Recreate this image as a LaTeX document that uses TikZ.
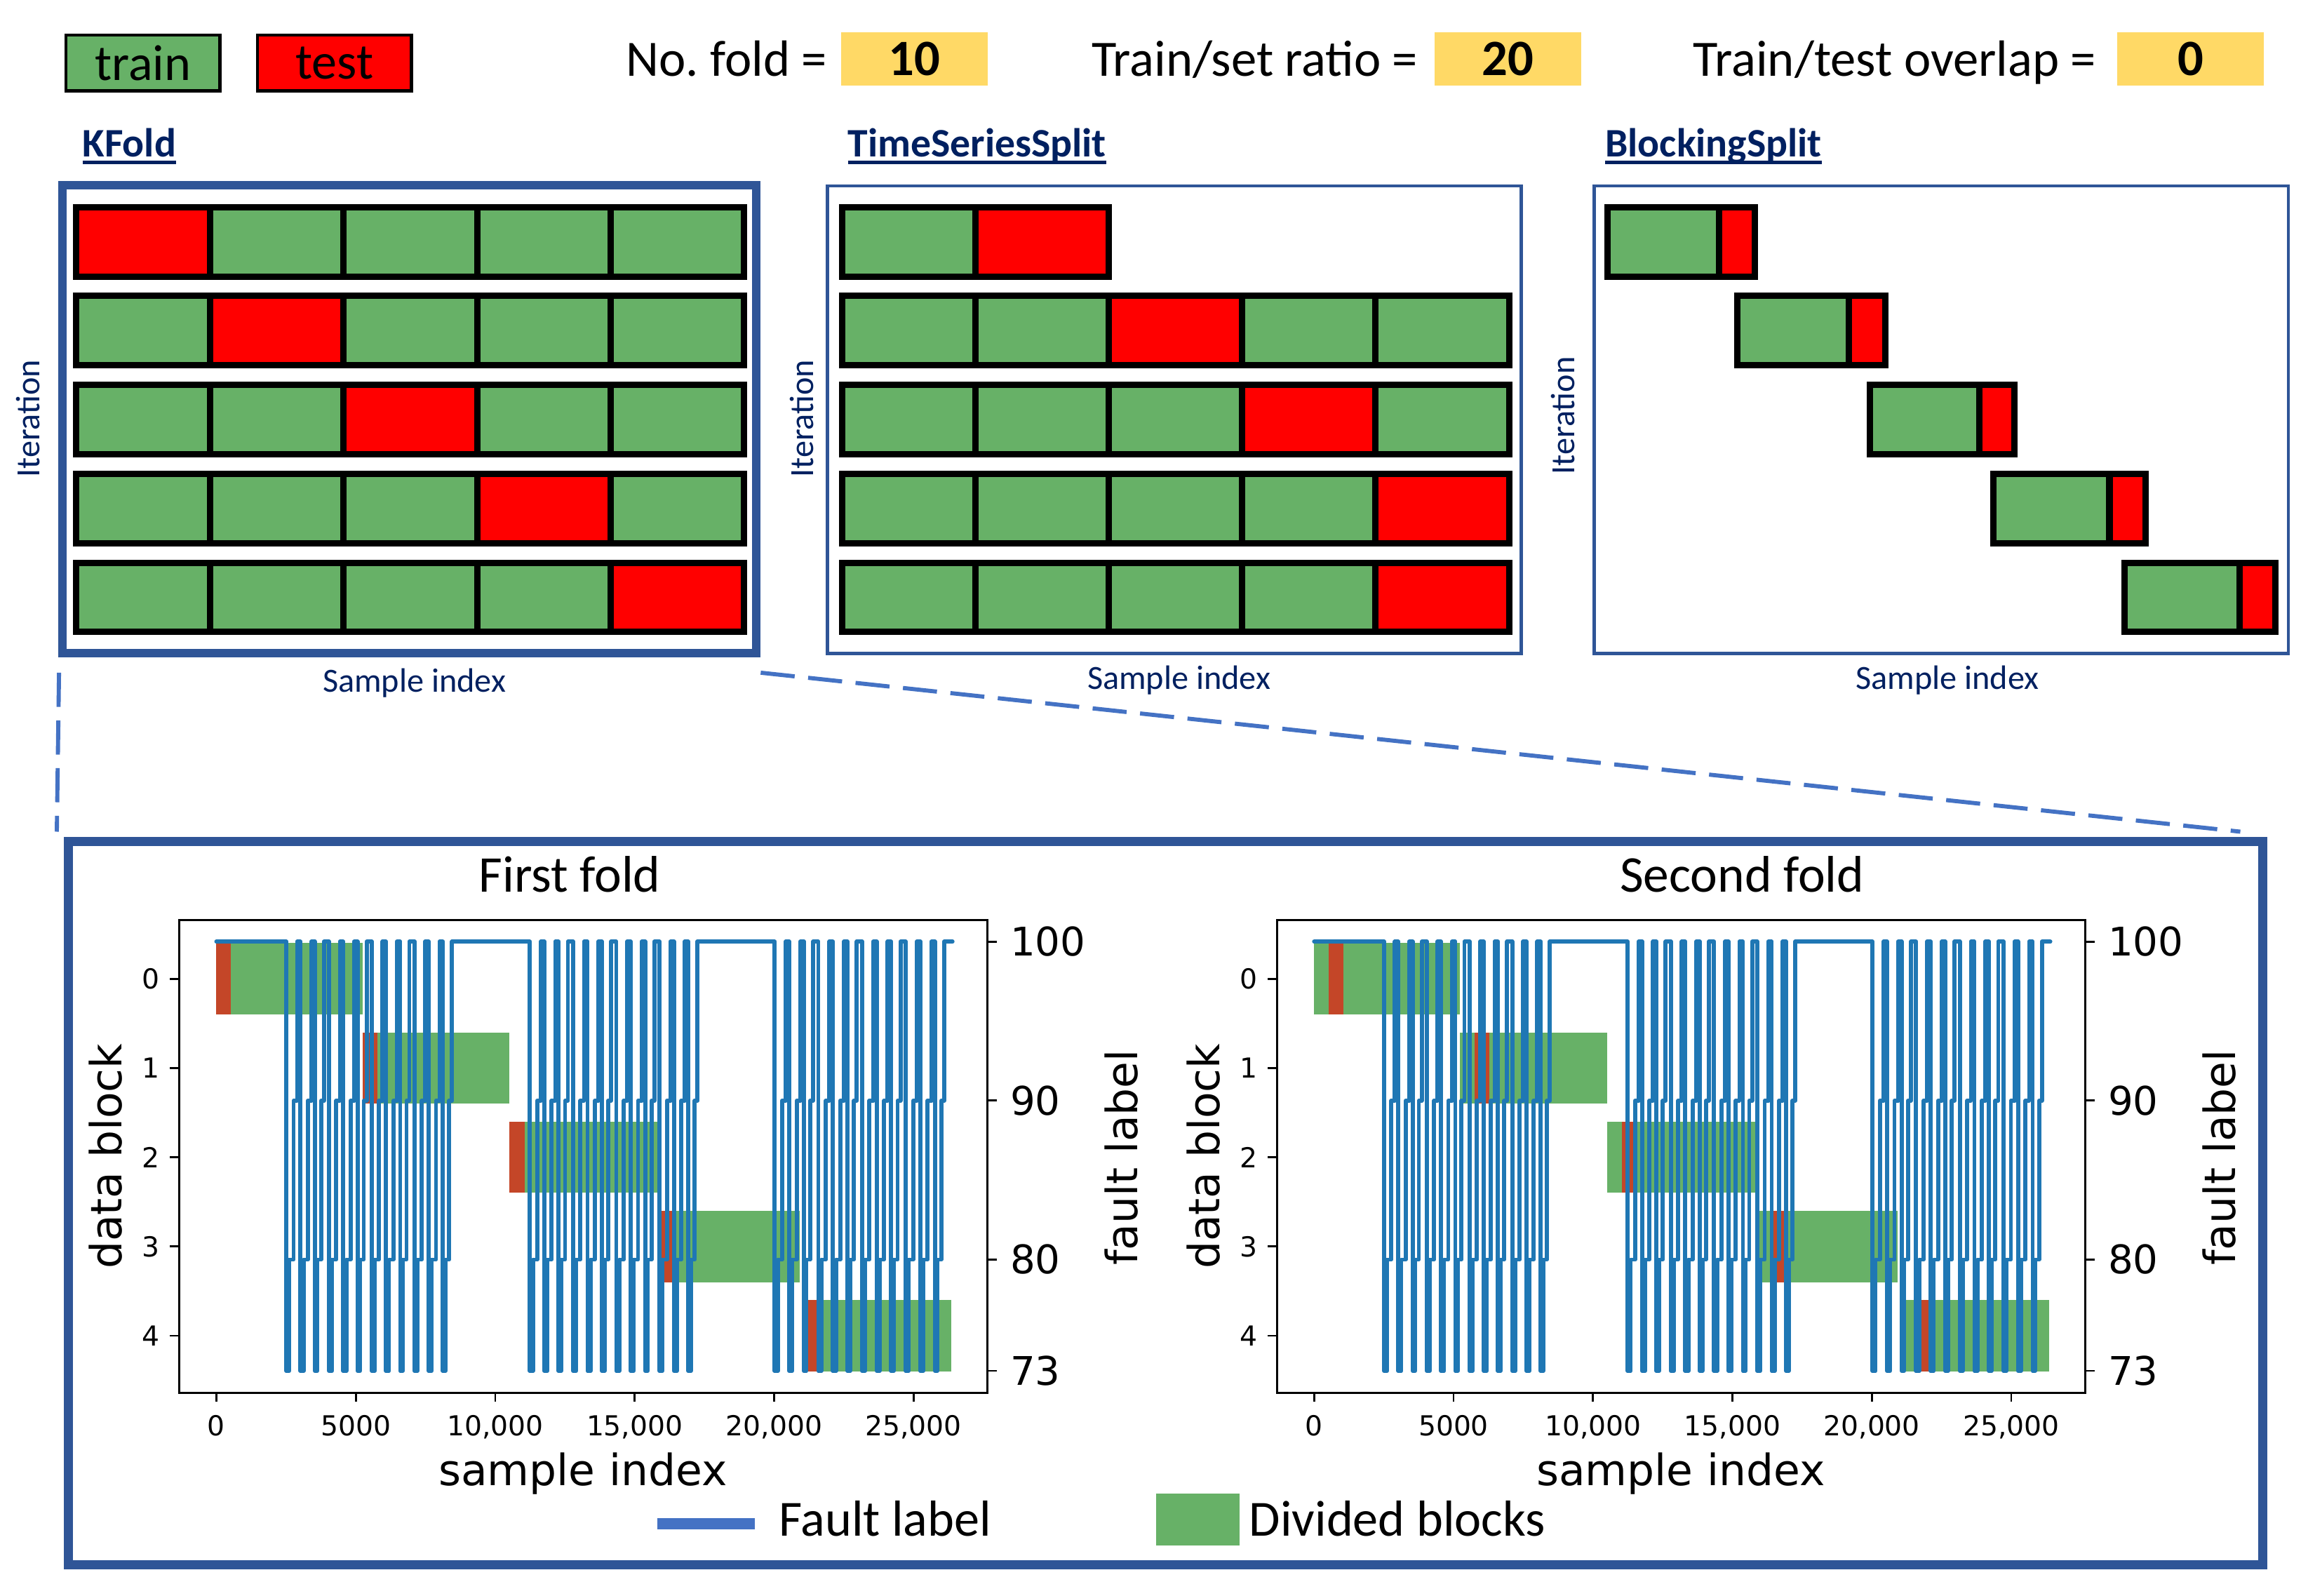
\documentclass[tikz,border=0pt]{standalone}
\usepackage{fontspec}
\setmainfont{Carlito}
\newfontfamily\dejavu{DejaVu Sans}
\usetikzlibrary{calc}
\frenchspacing
\definecolor{cgreen}{RGB}{103,177,103}
\definecolor{cred}{RGB}{255,0,0}
\definecolor{pred}{RGB}{196,70,40}
\definecolor{frameblue}{RGB}{47,85,151}
\definecolor{navy}{RGB}{0,32,96}
\definecolor{gold}{RGB}{255,217,102}
\definecolor{dashblue}{RGB}{68,114,196}
\definecolor{mplblue}{RGB}{31,119,180}
\newcommand\fs[1]{\fontsize{#1}{#1}\selectfont}

\newcommand\foldpanel[2]{%
\begin{scope}[xshift=#1pt]
 \foreach \bs/\be [count=\ii from 0] in {0/99.2,99.2/199.2,199.2/299.7,300.2/396.2,400.5/499.2}{
   \fill[cgreen] ({147+\bs},{665+(\ii-0.4)*60.6}) rectangle ({147+\be},{665+(\ii+0.4)*60.6});
   \fill[pred] ({147+\bs+#2*0.1*(\be-\bs)},{665+(\ii-0.4)*60.6}) rectangle ({147+\bs+(#2+1)*0.1*(\be-\bs)},{665+(\ii+0.4)*60.6});
 }
 \draw[wave] (147,639.7) -- (194.5,639.7)
   \foreach \kk in {0,...,11}{
     -- ({194.5+\kk*9.675},639.7) -- ({194.5+\kk*9.675},931.3)
     -- ({194.5+(\kk+0.21-0.03*(mod(\kk,3)==2))*9.675},931.3) -- ({194.5+(\kk+0.21-0.03*(mod(\kk,3)==2))*9.675},855.7)
     -- ({194.5+(\kk+0.51-0.07*(mod(\kk,3)==2))*9.675},855.7) -- ({194.5+(\kk+0.51-0.07*(mod(\kk,3)==2))*9.675},747.7)
     -- ({194.5+(\kk+0.76-0.12*(mod(\kk,3)==2))*9.675},747.7) -- ({194.5+(\kk+0.76-0.12*(mod(\kk,3)==2))*9.675},639.7)
   }
   -- (360,639.7)
   \foreach \kk in {0,...,11}{
     -- ({360+\kk*9.783},639.7) -- ({360+\kk*9.783},931.3)
     -- ({360+(\kk+0.21-0.03*(mod(\kk,3)==2))*9.783},931.3) -- ({360+(\kk+0.21-0.03*(mod(\kk,3)==2))*9.783},855.7)
     -- ({360+(\kk+0.51-0.07*(mod(\kk,3)==2))*9.783},855.7) -- ({360+(\kk+0.51-0.07*(mod(\kk,3)==2))*9.783},747.7)
     -- ({360+(\kk+0.76-0.12*(mod(\kk,3)==2))*9.783},747.7) -- ({360+(\kk+0.76-0.12*(mod(\kk,3)==2))*9.783},639.7)
   }
   -- (526.3,639.7)
   \foreach \kk in {0,...,11}{
     -- ({526.3+\kk*9.89},639.7) -- ({526.3+\kk*9.89},931.3)
     -- ({526.3+(\kk+0.21-0.03*(mod(\kk,3)==2))*9.89},931.3) -- ({526.3+(\kk+0.21-0.03*(mod(\kk,3)==2))*9.89},855.7)
     -- ({526.3+(\kk+0.51-0.07*(mod(\kk,3)==2))*9.89},855.7) -- ({526.3+(\kk+0.51-0.07*(mod(\kk,3)==2))*9.89},747.7)
     -- ({526.3+(\kk+0.76-0.12*(mod(\kk,3)==2))*9.89},747.7) -- ({526.3+(\kk+0.76-0.12*(mod(\kk,3)==2))*9.89},639.7)
   }
   -- (647.1,639.7);
 \draw[spine] (121.9,625) rectangle (670.8,946.2);
 \foreach \ii in {0,...,4}{
   \draw[tickmark] (121.9,{665+60.6*\ii}) -- (115.4,{665+60.6*\ii});
   \node[ticklab, anchor=east] (lt#2\ii) at (108.5,{665+60.6*\ii}) {\ii};
 }
 \foreach \jj/\lab in {0/0,1/5000,2/{10,000},3/{15,000},4/{20,000},5/{25,000}}{
   \draw[tickmark] ({147+94.72*\jj},946.2) -- ({147+94.72*\jj},952.2);
   \node[ticklab, anchor=north] (bt#2\jj) at ({147+94.72*\jj},961.5) {\lab};
 }
 \foreach \val/\yy in {100/639.7,90/747.7,80/855.7,73/931.3}{
   \draw[tickmark] (670.8,\yy) -- (677.3,\yy);
   \node[rticklab, anchor=west] (rt#2\val) at (686.4,\yy) {\val};
 }
 \node[mlab, anchor=base] (xl#2) at (396,1009) {sample index};
 \node[mlab, rotate=90, anchor=base] (yl#2) at (82.8,785.6) {data block};
 \node[mlab, rotate=90, anchor=base] (yr#2) at (772.7,786.4) {fault label};
\end{scope}}

\begin{document}
\begin{tikzpicture}[x=1pt,y=-1pt,
  txt/.style={inner sep=0pt, outer sep=0pt},
  toptext/.style={txt, font=\fs{34.6}},
  legbox/.style={draw=black, line width=2.2pt, minimum width=104.7pt, minimum height=37.9pt, inner sep=0pt, font=\fs{34.4}},
  goldbox/.style={fill=gold, minimum width=99.3pt, minimum height=36.1pt, inner sep=0pt, font=\fs{34.6}\bfseries},
  splittitle/.style={txt, font=\fs{27.5}\bfseries, text=navy},
  axlab/.style={txt, font=\fs{23}, text=navy},
  cellb/.style={draw=black, line width=4.3pt},
  panelthick/.style={draw=frameblue, line width=5.9pt},
  panelthin/.style={draw=frameblue, line width=2.2pt},
  zoomline/.style={draw=dashblue, line width=2.8pt, dash pattern=on 23.2pt off 9.2pt},
  wave/.style={draw=mplblue, line width=2.8pt, line join=round, line cap=round},
  spine/.style={draw=black, line width=1.5pt},
  tickmark/.style={draw=black, line width=1.3pt},
  ticklab/.style={txt, font=\dejavu\fs{18.7}},
  rticklab/.style={txt, font=\dejavu\fs{26.8}},
  mlab/.style={txt, font=\dejavu\fs{29.3}},
  foldtitle/.style={txt, font=\fs{35}},
  legtext/.style={txt, font=\fs{34.4}},
]
\fill[white] (0,0) rectangle (1568,1083.9);
\useasboundingbox (0,0) rectangle (1568,1083.9);

% top legend and parameters
\node[legbox, fill=cgreen] (trainkey) at (97.15,42.75) {train};
\node[legbox, fill=cred] (testkey) at (227.3,42.75) {test};
\node[toptext, anchor=base west] (nfold) at (425.5,51.6) {No. fold =};
\node[goldbox] (nfoldv) at (621.15,39.95) {10};
\node[toptext, anchor=base west] (ratio) at (741.6,51.6) {Train/set ratio =};
\node[goldbox] (ratiov) at (1024.5,39.95) {20};
\node[toptext, anchor=base west] (overlap) at (1150.4,51.6) {Train/test overlap =};
\node[goldbox] (overlapv) at (1488.15,39.95) {0};

% titles
\node[splittitle, anchor=base west] (kftitle) at (56,106.5) {KFold};
\node[splittitle, anchor=base west] (tstitle) at (576,106.5) {TimeSeriesSplit};
\node[splittitle, anchor=base west] (bstitle) at (1090.6,106.5) {BlockingSplit};
\foreach \nm in {kftitle,tstitle,bstitle}{
  \draw[navy, line width=2.2pt] ($(\nm.base west)+(0,3.9)$) -- ($(\nm.base east)+(0,3.9)$);
}

% panels
\draw[panelthick] (42.35,125.75) rectangle (513.75,443.75);
\draw[panelthin] (562,126.3) rectangle (1033.4,443.8);
\draw[panelthin] (1083.1,126.3) rectangle (1554.7,443.8);

% KFold cells
\foreach \row in {0,...,4}{
  \foreach \col in {0,...,4}{
    \ifnum\row=\col \def\cellcol{cred}\else\def\cellcol{cgreen}\fi
    \draw[cellb, fill=\cellcol] ({51.85+90.76*\col},{140.7+60.4*\row}) rectangle ({51.85+90.76*(\col+1)},{187.8+60.4*\row});
  }
}
% TimeSeriesSplit cells
\foreach \row in {0,...,4}{
  \pgfmathtruncatemacro\ncol{\row==0 ? 1 : 4}
  \pgfmathtruncatemacro\redcol{\row==0 ? 1 : min(\row+1,4)}
  \foreach \col in {0,...,\ncol}{
    \ifnum\col=\redcol \def\cellcol{cred}\else\def\cellcol{cgreen}\fi
    \draw[cellb, fill=\cellcol] ({572.1+90.62*\col},{140.7+60.4*\row}) rectangle ({572.1+90.62*(\col+1)},{187.8+60.4*\row});
  }
}
% BlockingSplit cells
\foreach \xs/\xd/\xe [count=\row from 0] in {1092.1/1168.1/1192.2,1180.5/1256.1/1280.9,1270.2/1344.9/1368.7,1354.4/1433.1/1457.5,1443.2/1521.4/1545.7}{
  \draw[cellb, fill=cgreen] (\xs,{140.7+60.4*\row}) rectangle (\xd,{187.8+60.4*\row});
  \draw[cellb, fill=cred] (\xd,{140.7+60.4*\row}) rectangle (\xe,{187.8+60.4*\row});
}

% axis labels of the split panels
\node[axlab, rotate=90, anchor=base] (kfit) at (27,284.4) {Iteration};
\node[axlab, rotate=90, anchor=base] (tsit) at (552.5,284.4) {Iteration};
\node[axlab, rotate=90, anchor=base] (bsit) at (1069.5,282.4) {Iteration};
\node[axlab] (kfsi) at (281.5,464) {Sample index};
\node[axlab] (tssi) at (801,462) {Sample index};
\node[axlab] (bssi) at (1323,462) {Sample index};

% zoom lines
\coordinate (zla) at (40.1,457);
\coordinate (zlb) at (38.6,565);
\coordinate (zlc) at (516.8,457);
\coordinate (zld) at (1522,565);
\draw[zoomline] (zla) -- (zlb);
\draw[zoomline] (zlc) -- (zld);

% bottom box
\draw[panelthick, line width=6.2pt] (46.6,571.6) rectangle (1537.3,1062.8);
\node[foldtitle, anchor=base] (ft1) at (387,606.2) {First fold};
\node[foldtitle, anchor=base] (ft2) at (1183.5,606.2) {Second fold};

\foldpanel{0}{0}
\foldpanel{745.8}{1}

% legend
\coordinate (lga) at (446.5,1035);
\coordinate (lgb) at (512.8,1035);
\draw[dashblue, line width=7.5pt] (lga) -- (lgb);
\node[legtext, anchor=base west] (lgt1) at (529.3,1043.6) {Fault label};
\node[fill=cgreen, minimum width=56.8pt, minimum height=35.2pt, inner sep=0pt] (lgbox) at (813.9,1032.1) {};
\node[legtext, anchor=base west] (lgt2) at (848.8,1043.6) {Divided blocks};
\end{tikzpicture}
\end{document}
